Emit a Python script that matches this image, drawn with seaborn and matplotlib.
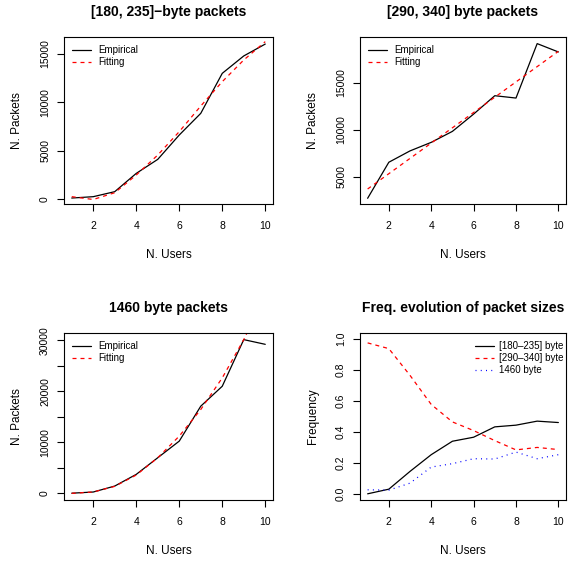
import matplotlib
matplotlib.use("Agg")
import matplotlib.pyplot as plt
import seaborn as sns
import numpy as np

users = [1, 2, 3, 4, 5, 6, 7, 8, 9, 10]

small_emp = [100, 240, 760, 2650, 4100, 6620, 8860, 13000, 14800, 16030]
small_fit = [240, -50, 650, 2480, 4550, 6970, 9620, 12140, 14380, 16280]

mid_emp = [2690, 6530, 7740, 8650, 9820, 11660, 13620, 13370, 19170, 18280]
mid_fit = [3680, 5310, 6940, 8570, 10200, 11830, 13460, 15090, 16720, 18350]

big_emp = [30, 260, 1430, 3720, 6980, 10240, 17090, 21000, 30140, 29220]
big_fit = [0, 260, 1370, 3590, 6980, 11220, 16440, 22640, 30140, 38800]

freq_small = [0.00, 0.030, 0.145, 0.253, 0.340, 0.366, 0.433, 0.444, 0.470, 0.461]
freq_mid = [0.976, 0.939, 0.766, 0.578, 0.465, 0.409, 0.344, 0.284, 0.300, 0.286]
freq_big = [0.026, 0.024, 0.069, 0.173, 0.195, 0.227, 0.225, 0.270, 0.227, 0.253]

titles = ["[180, 235]\u2212byte packets", "[290, 340] byte packets",
          "1460 byte packets", "Freq. evolution of packet sizes"]
legend_fit = ["Empirical", "Fitting"]
legend_freq = ["[180\u2013235] byte", "[290\u2013340] byte", "1460 byte"]
xticks = [2, 4, 6, 8, 10]

sns.set_theme(style="ticks")
plt.rcParams["font.family"] = ["Liberation Sans", "DejaVu Sans"]
plt.rcParams["axes.linewidth"] = 0.8
plt.rcParams["xtick.major.width"] = 0.8
plt.rcParams["ytick.major.width"] = 0.8
plt.rcParams["xtick.major.size"] = 5
plt.rcParams["ytick.major.size"] = 5
plt.rcParams["axes.edgecolor"] = "black"
plt.rcParams["xtick.color"] = "black"
plt.rcParams["ytick.color"] = "black"
plt.rcParams["text.color"] = "black"
plt.rcParams["axes.labelcolor"] = "black"

W, H = 568, 562
fig = plt.figure(figsize=(W / 100, H / 100), dpi=100)


def add_ax(left, top, right, bottom):
    return fig.add_axes([left / W, (H - bottom) / H, (right - left) / W, (bottom - top) / H])


LW = 0.9
DASH = (3.2, 3.2)
DOT = (0.8, 3.4)


def style_ax(ax, title, ylabel, ylim, yticks, yticklabels):
    ax.set_xlim(0.64, 10.36)
    ax.set_ylim(*ylim)
    ax.set_xticks(xticks)
    ax.set_xticklabels([str(t) for t in xticks])
    ax.set_yticks(yticks)
    ax.set_yticklabels(yticklabels, rotation=90, va="center")
    ax.tick_params(axis="x", labelsize=7.5, pad=7, direction="out")
    ax.tick_params(axis="y", labelsize=7.5, pad=5, direction="out")
    ax.set_xlabel("N. Users", fontsize=8.5, labelpad=13.5)
    ax.set_ylabel(ylabel, fontsize=8.5, labelpad=12.5)
    ax.set_title(title, fontsize=10, fontweight="bold", pad=15)
    for s in ax.spines.values():
        s.set_visible(True)
        s.set_linewidth(0.8)


def fit_panel(ax, emp, fit, title, ylim, yticks, yticklabels):
    sns.lineplot(x=users, y=emp, ax=ax, color="black", linewidth=LW, label=legend_fit[0])
    sns.lineplot(x=users, y=fit, ax=ax, color="red", linewidth=LW, label=legend_fit[1])
    ax.lines[1].set_dashes(DASH)
    style_ax(ax, title, "N. Packets", ylim, yticks, yticklabels)
    leg = ax.legend(loc="upper left", bbox_to_anchor=(0.04, 0.95), frameon=False,
                    fontsize=7, handlelength=1.9, handletextpad=0.75,
                    labelspacing=0.2, borderpad=0, borderaxespad=0)
    leg.get_lines()[1].set_dashes(DASH)


ax1 = add_ax(64, 37, 273, 204)
fit_panel(ax1, small_emp, small_fit, titles[0], (-517, 16760),
          [0, 5000, 10000, 15000], ["0", "5000", "10000", "15000"])

ax2 = add_ax(360, 37, 566, 204)
fit_panel(ax2, mid_emp, mid_fit, titles[1], (2082, 19875),
          [5000, 10000, 15000], ["5000", "10000", "15000"])

ax3 = add_ax(64, 333, 273, 500)
fit_panel(ax3, big_emp, big_fit, titles[2], (-1305, 31440),
          [0, 5000, 10000, 15000, 20000, 25000, 30000],
          ["0", "", "10000", "", "20000", "", "30000"])

ax4 = add_ax(360, 333, 566, 500)
sns.lineplot(x=users, y=freq_small, ax=ax4, color="black", linewidth=LW, label=legend_freq[0])
sns.lineplot(x=users, y=freq_mid, ax=ax4, color="red", linewidth=LW, label=legend_freq[1])
sns.lineplot(x=users, y=freq_big, ax=ax4, color="blue", linewidth=LW, label=legend_freq[2])
ax4.lines[1].set_dashes(DASH)
ax4.lines[2].set_dashes(DOT)
style_ax(ax4, titles[3], "Frequency", (-0.04, 1.04),
         [0, 0.2, 0.4, 0.6, 0.8, 1.0], ["0.0", "0.2", "0.4", "0.6", "0.8", "1.0"])
leg = ax4.legend(loc="upper right", bbox_to_anchor=(0.99, 0.95), frameon=False,
                 fontsize=7, handlelength=1.9, handletextpad=0.6,
                 labelspacing=0.2, borderpad=0, borderaxespad=0)
leg.get_lines()[1].set_dashes(DASH)
leg.get_lines()[2].set_dashes(DOT)

fig.savefig("out.png", dpi=100)
